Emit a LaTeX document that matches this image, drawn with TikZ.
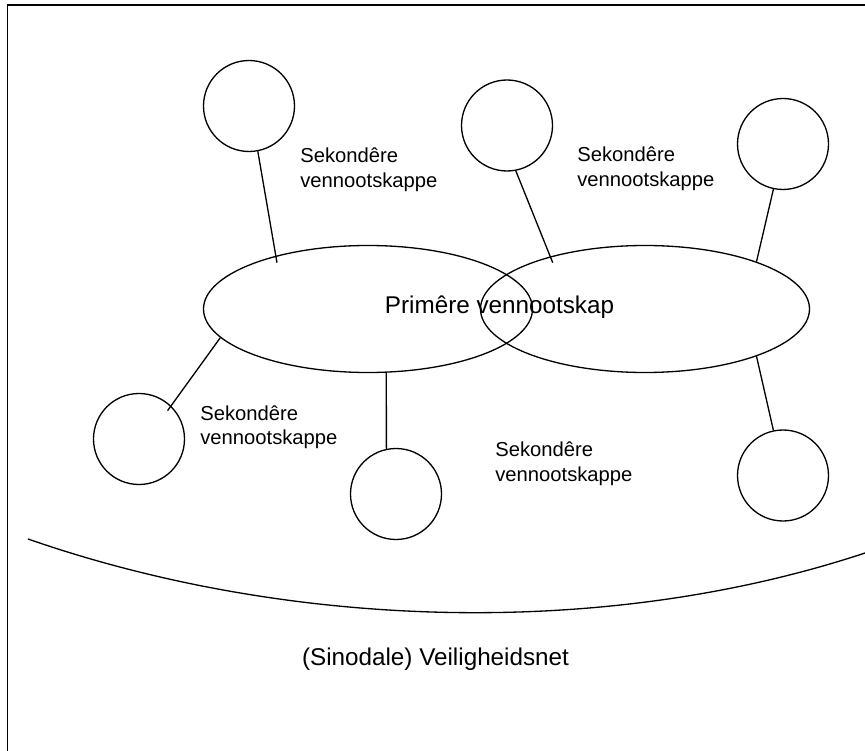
\documentclass[tikz,border=0pt]{standalone}
\usepackage{fontspec}
\setmainfont{Liberation Sans}
\usepackage{tikz}
\usetikzlibrary{shapes.geometric}

\tikzset{
  sekcirc/.style={circle,draw,line width=0.75pt,inner sep=0pt,minimum size=1.82cm},
  primell/.style={ellipse,draw,line width=0.75pt,inner sep=0pt,minimum width=6.58cm,minimum height=2.54cm},
  seklabel/.style={anchor=north west,inner sep=0pt,align=left,font=\fontsize{11.5}{14}\selectfont},
  bigtext/.style={anchor=base,inner sep=0pt,font=\fontsize{13.8}{15}\selectfont}
}

\begin{document}
\begin{tikzpicture}
		\useasboundingbox (0,0) rectangle (17.3,-15.02);
		% frame (top and left only)
		\draw[line width=1.1pt] (17.3,-0.10) -- (0.15,-0.10) -- (0.15,-15.02);

		\begin{scope}[every node/.style={primell}]
		    \node (prim-l) at (7.36,-6.18) {};
		    \node (prim-r) at (12.90,-6.18) {};
		\end{scope}
		\node[bigtext] (prim-txt) at (9.99,-6.27) {Primêre vennootskap};

		\begin{scope}[every node/.style={sekcirc}]
		    \node (sek-1) at (4.98,-2.12) {};
		    \node (sek-2) at (10.14,-2.51) {};
		    \node (sek-3) at (15.66,-2.88) {};
		    \node (sek-4) at (2.78,-8.78) {};
		    \node (sek-5) at (7.92,-9.88) {};
		    \node (sek-6) at (15.66,-9.51) {};
		\end{scope}

		\begin{scope}[every node/.style={seklabel}]
		    \node (lbl-1) at (6.00,-2.95) {Sekondêre\\vennootskappe};
		    \node (lbl-2) at (11.54,-2.93) {Sekondêre\\vennootskappe};
		    \node (lbl-3) at (4.00,-8.10) {Sekondêre\\vennootskappe};
		    \node (lbl-4) at (9.90,-8.83) {Sekondêre\\vennootskappe};
		\end{scope}

		\begin{scope}[every edge/.style={draw=black,line width=0.75pt}]
		    \path (sek-1.-79) edge[shorten >=-4pt] (prim-l.150);
		    \path (sek-2.-79) edge[shorten >=-3.8pt] (prim-r.151);
		    \path (sek-3.-102) edge (prim-r.23);
		    \path (prim-l.-169) edge[shorten >=-3.4pt] (sek-4.46);
		    \path (prim-l.-74) edge (sek-5.102);
		    \path (prim-r.-23) edge (sek-6.102);
		\end{scope}

		% safety net
		\draw[line width=0.75pt] (0.56,-10.78) .. controls (5.76,-12.59) and (12.08,-12.79) .. (17.30,-11.06);
		\node[bigtext] (net) at (8.71,-13.30) {(Sinodale) Veiligheidsnet};
\end{tikzpicture}
\end{document}
